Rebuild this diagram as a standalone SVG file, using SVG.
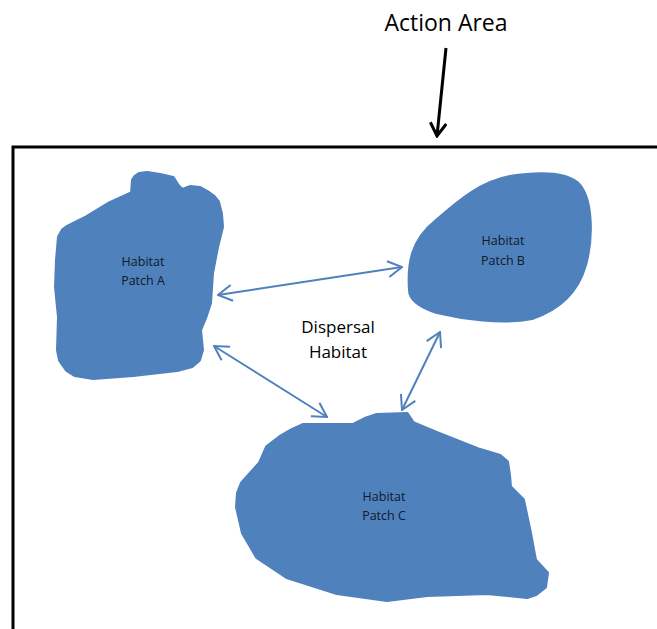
<svg xmlns="http://www.w3.org/2000/svg" width="657" height="629" viewBox="0 0 657 629">
<style>
.patch{fill:#4F81BD;stroke:#4F81BD;stroke-width:4;stroke-linejoin:round}
.lbl{font-family:"Open Sans","Liberation Sans",sans-serif;font-size:12.5px;fill:#111a26;text-anchor:middle}
.big{font-family:"Open Sans","Liberation Sans",sans-serif;fill:#000;text-anchor:middle}
.conn{stroke:#4F81BD;stroke-width:2;fill:none;marker-start:url(#bh);marker-end:url(#bh)}
</style>
<defs>
<marker id="bh" viewBox="0 0 16 18" refX="15" refY="9" markerWidth="16" markerHeight="18" markerUnits="userSpaceOnUse" orient="auto-start-reverse">
<path d="M1,1 L15,9 L1,17" fill="none" stroke="#4F81BD" stroke-width="2"/>
</marker>
<marker id="kh" viewBox="0 0 16 18" refX="14" refY="9" markerWidth="16" markerHeight="18" markerUnits="userSpaceOnUse" orient="auto">
<path d="M1,1 L14,9 L1,17" fill="none" stroke="#000" stroke-width="3"/>
</marker>
</defs>
<path d="M13,629 V147 H657" fill="none" stroke="#000" stroke-width="3"/>
<text class="big" x="446" y="31" font-size="23">Action Area</text>
<line x1="446" y1="48" x2="437" y2="136" stroke="#000" stroke-width="3" marker-end="url(#kh)"/>
<g id="patchA">
<polygon class="patch" points="135,177 139,174 147,173 160,175 173,178 178,186 182,190 190,187 200,188 207,192 214,197 218,202 221,214 222,227 217,247 212,273 210,303 205,318 200,330 202,350 199,360 192,366 177,370 133,375 93,378 75,375 67,370 60,360 58,350 59,317 56,287 57,260 59,237 63,230 67,227 87,217 110,203 132,193 133,180"/>
<text class="lbl" x="143" y="266">Habitat</text>
<text class="lbl" x="143" y="285">Patch A</text>
</g>
<g id="patchB">
<path class="patch" d="M410,290 C408,262 413,240 435,222 C455,205 478,183 510,177 C535,173 563,172 577,183 C593,198 592,240 585,265 C578,290 562,308 532,318 C502,324 462,318 437,312 C418,306 410,298 410,290 Z"/>
<text class="lbl" x="503" y="245">Habitat</text>
<text class="lbl" x="503" y="265">Patch B</text>
</g>
<g id="patchC">
<polygon class="patch" points="303,425 353,425 365,419 377,415 407,414 413,423 437,433 480,450 500,456 507,462 509,475 510,487 523,500 530,533 535,560 547,573 545,587 536,594 527,597 487,593 427,595 387,600 337,593 287,577 257,557 243,533 237,507 238,493 242,483 260,463 267,447 280,437 292,430"/>
<text class="lbl" x="384" y="501">Habitat</text>
<text class="lbl" x="384" y="520">Patch C</text>
</g>
<g id="dispersal">
<text class="big" x="338" y="333" font-size="17" fill="#111">Dispersal</text>
<text class="big" x="338" y="358" font-size="17" fill="#111">Habitat</text>
</g>
<g id="connectors">
<line class="conn" x1="218" y1="295" x2="402" y2="267"/>
<line class="conn" x1="214" y1="346" x2="327" y2="417"/>
<line class="conn" x1="440" y1="332" x2="402" y2="410"/>
</g>
</svg>
